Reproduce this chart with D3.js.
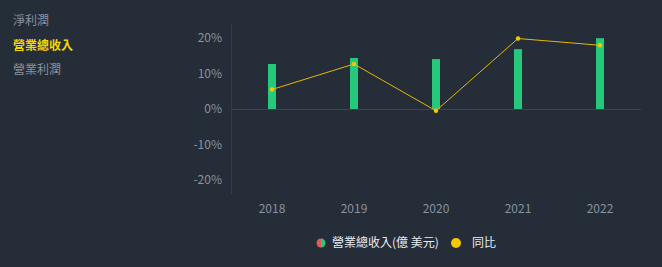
<!DOCTYPE html>
<html><head><meta charset="utf-8">
<script src="https://cdn.jsdelivr.net/npm/d3@7"></script>
<style>
html,body{margin:0;padding:0;background:#252d38;}
svg{display:block;font-family:"Noto Sans CJK TC","Noto Sans",sans-serif;}
</style></head><body>
<svg id="c" width="662" height="267"></svg>
<script>
const years = ["2018","2019","2020","2021","2022"];
const revenue = [12.7, 14.4, 14.1, 16.9, 20.0];
const yoy = [5.5, 12.7, -0.5, 19.9, 18.0];
const yTicks = [-20, -10, 0, 10, 20];
const sideLegend = ["淨利潤", "營業總收入", "營業利潤"];

const svg = d3.select("#c");
svg.append("rect").attr("width",662).attr("height",267).attr("fill","#252d38");

const x = d3.scaleBand().domain(years).range([231, 641]);
const y = d3.scaleLinear().domain([-24, 24]).range([194, 24]);
const yBar = d3.scaleLinear().domain([-24, 24]).range([194, 24]);

// axis line left
svg.append("line").attr("x1",231.5).attr("x2",231.5).attr("y1",24).attr("y2",194)
  .attr("stroke","#333c48").attr("stroke-width",1);
// zero line
svg.append("line").attr("x1",231).attr("x2",641).attr("y1",Math.round(y(0))+0.5).attr("y2",Math.round(y(0))+0.5)
  .attr("stroke","#3a4452").attr("stroke-width",1);

// y tick labels
svg.append("g").selectAll("text").data(yTicks).join("text")
  .attr("x",222).attr("y",d=>y(d)).attr("dy","0.35em").attr("text-anchor","end")
  .attr("fill","#8a929e").attr("font-size",12).text(d=>d+"%");

// x tick labels
svg.append("g").selectAll("text").data(years).join("text")
  .attr("x",d=>x(d)+x.bandwidth()/2).attr("y",209).attr("dy","0.35em").attr("text-anchor","middle")
  .attr("fill","#8a929e").attr("font-size",12).text(d=>d);

// bars
svg.append("g").selectAll("rect").data(years).join("rect")
  .attr("x",d=>x(d)+x.bandwidth()/2-4).attr("width",8)
  .attr("y",(d,i)=>yBar(revenue[i])).attr("height",(d,i)=>yBar(0)-yBar(revenue[i]))
  .attr("fill","#26c87c");

// line
const line = d3.line().x((d,i)=>x(years[i])+x.bandwidth()/2).y(d=>y(d));
svg.append("path").datum(yoy).attr("d",line).attr("fill","none")
  .attr("stroke","#e6b800").attr("stroke-width",1);
svg.append("g").selectAll("circle").data(yoy).join("circle")
  .attr("cx",(d,i)=>x(years[i])+x.bandwidth()/2).attr("cy",d=>y(d)).attr("r",2.2)
  .attr("fill","#f5c800");

// side legend
svg.append("g").selectAll("text").data(sideLegend).join("text")
  .attr("x",13).attr("y",(d,i)=>21+i*24.5).attr("dy","0.35em")
  .attr("font-size",12).attr("font-weight",(d,i)=>i===1?"bold":"normal")
  .attr("fill",(d,i)=>i===1?"#f5d800":"#8a929e").text(d=>d);

// bottom legend
const lg = svg.append("g");
lg.append("path").attr("d", d3.arc()({innerRadius:0,outerRadius:4.5,startAngle:Math.PI,endAngle:2*Math.PI}))
  .attr("transform","translate(321,243)").attr("fill","#e05a5a");
lg.append("path").attr("d", d3.arc()({innerRadius:0,outerRadius:4.5,startAngle:0,endAngle:Math.PI}))
  .attr("transform","translate(321,243)").attr("fill","#26c87c");
lg.append("text").attr("x",332).attr("y",243).attr("dy","0.35em").attr("font-size",12)
  .attr("fill","#e8ecf0").text("營業總收入(億 美元)");
lg.append("circle").attr("cx",456).attr("cy",243).attr("r",5).attr("fill","#f5c800");
lg.append("text").attr("x",472).attr("y",243).attr("dy","0.35em").attr("font-size",12)
  .attr("fill","#e8ecf0").text("同比");
</script>
</body></html>
